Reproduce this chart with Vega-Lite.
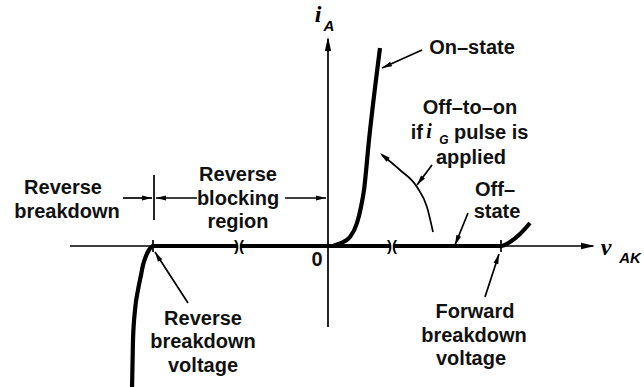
{
  "$schema": "https://vega.github.io/schema/vega-lite/v6.json",
  "width": 644,
  "height": 387,
  "autosize": {"type": "fit", "contains": "padding"},
  "padding": 0,
  "background": "white",
  "config": {"view": {"stroke": null}},
  "datasets": {
    "thick": [
      {"s": "main", "k": 1, "x": -19.6, "y": -14.4},
      {"s": "main", "k": 2, "x": -19.5, "y": -9.4},
      {"s": "main", "k": 3, "x": -19.3, "y": -6.4},
      {"s": "main", "k": 4, "x": -19.0, "y": -4.4},
      {"s": "main", "k": 5, "x": -18.7, "y": -2.9},
      {"s": "main", "k": 6, "x": -18.5, "y": -1.9},
      {"s": "main", "k": 7, "x": -18.2, "y": -1.0},
      {"s": "main", "k": 8, "x": -17.9, "y": -0.4},
      {"s": "main", "k": 9, "x": -17.5, "y": 0},
      {"s": "main", "k": 10, "x": 17.3, "y": 0},
      {"s": "main", "k": 11, "x": 18.2, "y": 0.4},
      {"s": "main", "k": 12, "x": 19.2, "y": 1.2},
      {"s": "main", "k": 13, "x": 20.2, "y": 2.3},
      {"s": "on", "k": 1, "x": 0.5, "y": 0},
      {"s": "on", "k": 2, "x": 1.2, "y": 0.25},
      {"s": "on", "k": 3, "x": 2.2, "y": 0.9},
      {"s": "on", "k": 4, "x": 2.9, "y": 2.3},
      {"s": "on", "k": 5, "x": 3.3, "y": 3.9},
      {"s": "on", "k": 6, "x": 3.6, "y": 5.6},
      {"s": "on", "k": 7, "x": 4.1, "y": 10.6},
      {"s": "on", "k": 8, "x": 5.2, "y": 19.8}
    ],
    "arc": [
      {"k": 1, "x": 10.5, "y": 1.4},
      {"k": 2, "x": 9.9, "y": 3.9},
      {"k": 3, "x": 8.9, "y": 5.9},
      {"k": 4, "x": 7.2, "y": 7.6},
      {"k": 5, "x": 5.4, "y": 9.1}
    ],
    "segs": [
      {"id": "haxis", "x": -25.8, "y": 0, "x2v": 26.5, "y2v": 0},
      {"id": "vaxis", "x": 0, "y": -8.1, "x2v": 0, "y2v": 20.7},
      {"id": "on", "x": 9.4, "y": 19.6, "x2v": 5.4, "y2v": 17.8},
      {"id": "ptr", "x": 10.4, "y": 8.1, "x2v": 8.9, "y2v": 6.1},
      {"id": "off", "x": 14.0, "y": 3.3, "x2v": 12.7, "y2v": 0.1},
      {"id": "fwd", "x": 15.7, "y": -5.1, "x2v": 17.1, "y2v": -0.8},
      {"id": "rev", "x": -14.0, "y": -5.7, "x2v": -17.3, "y2v": -0.6},
      {"id": "f", "x": -20.5, "y": 4.8, "x2v": -17.6, "y2v": 4.8},
      {"id": "g", "x": -13.1, "y": 4.8, "x2v": -17.2, "y2v": 4.8},
      {"id": "h", "x": -4.3, "y": 4.8, "x2v": -0.2, "y2v": 4.8},
      {"id": "tick", "x": -17.4, "y": 7.1, "x2v": -17.4, "y2v": 2.6},
      {"id": "tick2", "x": -17.5, "y": 0.6, "x2v": -17.5, "y2v": -0.6},
      {"id": "tick3", "x": 17.3, "y": 0.6, "x2v": 17.3, "y2v": -0.6}
    ],
    "gaps": [
      {"x": -9.05, "y": 0, "x2v": -8.75, "y2v": 0},
      {"x": 6.25, "y": 0, "x2v": 6.55, "y2v": 0}
    ],
    "heads": [
      {"id": "vaxis", "x": 0, "y": 20.9},
      {"id": "haxis", "x": 26.7, "y": 0},
      {"id": "arc", "x": 5.2, "y": 9.3},
      {"id": "on", "x": 5.4, "y": 17.8},
      {"id": "ptr", "x": 8.9, "y": 6.1},
      {"id": "off", "x": 12.7, "y": 0.1},
      {"id": "fwd", "x": 17.1, "y": -0.8},
      {"id": "rev", "x": -17.3, "y": -0.6},
      {"id": "f", "x": -17.6, "y": 4.8},
      {"id": "g", "x": -17.2, "y": 4.8},
      {"id": "h", "x": -0.2, "y": 4.8}
    ],
    "labels": [
      {"t": "On–state", "x": 14.4, "y": 19.8},
      {"t": "Off–to–on", "x": 14.2, "y": 13.8},
      {"t": "applied", "x": 14.3, "y": 8.8},
      {"t": "Off–", "x": 16.7, "y": 5.6},
      {"t": "state", "x": 16.9, "y": 3.4},
      {"t": "Forward", "x": 14.7, "y": -6.6},
      {"t": "breakdown", "x": 14.6, "y": -9.0},
      {"t": "voltage", "x": 14.3, "y": -11.3},
      {"t": "Reverse", "x": -12.5, "y": -7.3},
      {"t": "breakdown", "x": -12.5, "y": -9.6},
      {"t": "voltage", "x": -12.5, "y": -12.0},
      {"t": "Reverse", "x": -26.5, "y": 5.8},
      {"t": "breakdown", "x": -26.1, "y": 3.4},
      {"t": "Reverse", "x": -9.0, "y": 7.1},
      {"t": "blocking", "x": -9.0, "y": 4.7},
      {"t": "region", "x": -9.0, "y": 2.4},
      {"t": "0", "x": -1.1, "y": -1.4}
    ],
    "ifl": [{"t": "if", "x": 9.5, "y": 11.3}],
    "pulse": [{"t": "pulse is", "x": 12.6, "y": 11.3}],
    "mainsym": [
      {"t": "i", "x": -1.0, "y": 23.1},
      {"t": "v", "x": 27.8, "y": -0.2}
    ],
    "smallsym": [{"t": "i", "x": 10.1, "y": 11.4}],
    "subs": [
      {"t": "A", "x": 0.1, "y": 22.0},
      {"t": "AK", "x": 30.2, "y": -1.2}
    ],
    "subg": [{"t": "G", "x": 11.6, "y": 10.6}],
    "breaks": [
      {"t": ")(", "x": -8.9, "y": 0},
      {"t": ")(", "x": 6.4, "y": 0}
    ]
  },
  "encoding": {
    "x": {"field": "x", "type": "quantitative", "scale": {"domain": [-32.8, 31.6], "nice": false, "zero": false}, "axis": null},
    "y": {"field": "y", "type": "quantitative", "scale": {"domain": [-14.1, 24.6], "nice": false, "zero": false}, "axis": null}
  },
  "layer": [
    {"data": {"name": "segs"}, "mark": {"type": "rule", "color": "black", "strokeWidth": 1.7}, "encoding": {"x2": {"field": "x2v"}, "y2": {"field": "y2v"}}},
    {"data": {"name": "arc"}, "mark": {"type": "line", "color": "black", "strokeWidth": 1.7, "interpolate": "monotone"}, "encoding": {"order": {"field": "k"}}},
    {"data": {"name": "thick"}, "mark": {"type": "line", "color": "black", "strokeWidth": 4.2, "strokeJoin": "round", "interpolate": "monotone", "clip": true}, "encoding": {"detail": {"field": "s"}, "order": {"field": "k"}}},
    {"data": {"name": "gaps"}, "mark": {"type": "rule", "color": "white", "strokeWidth": 7}, "encoding": {"x2": {"field": "x2v"}, "y2": {"field": "y2v"}}},
    {"data": {"name": "breaks"}, "mark": {"type": "text", "font": "Liberation Sans", "fontSize": 15, "fontWeight": "bold", "align": "center", "baseline": "middle", "color": "black"}, "encoding": {"text": {"field": "t"}}},
    {"data": {"name": "heads"}, "transform": [{"filter": "datum.id == 'vaxis'"}], "mark": {"type": "point", "shape": "M0,0L-0.45,2L0.45,2Z", "size": 196, "filled": true, "color": "black", "opacity": 1, "angle": 0}},
    {"data": {"name": "heads"}, "transform": [{"filter": "datum.id == 'haxis'"}], "mark": {"type": "point", "shape": "M0,0L-0.45,2L0.45,2Z", "size": 196, "filled": true, "color": "black", "opacity": 1, "angle": 90}},
    {"data": {"name": "heads"}, "transform": [{"filter": "datum.id == 'arc'"}], "mark": {"type": "point", "shape": "M0,0L-0.5,2L0.5,2Z", "size": 110, "filled": true, "color": "black", "opacity": 1, "angle": 310}},
    {"data": {"name": "heads"}, "transform": [{"filter": "datum.id == 'on'"}], "mark": {"type": "point", "shape": "M0,0L-0.5,2L0.5,2Z", "size": 100, "filled": true, "color": "black", "opacity": 1, "angle": 246}},
    {"data": {"name": "heads"}, "transform": [{"filter": "datum.id == 'ptr'"}], "mark": {"type": "point", "shape": "M0,0L-0.5,2L0.5,2Z", "size": 100, "filled": true, "color": "black", "opacity": 1, "angle": 217}},
    {"data": {"name": "heads"}, "transform": [{"filter": "datum.id == 'off'"}], "mark": {"type": "point", "shape": "M0,0L-0.5,2L0.5,2Z", "size": 100, "filled": true, "color": "black", "opacity": 1, "angle": 202}},
    {"data": {"name": "heads"}, "transform": [{"filter": "datum.id == 'fwd'"}], "mark": {"type": "point", "shape": "M0,0L-0.5,2L0.5,2Z", "size": 100, "filled": true, "color": "black", "opacity": 1, "angle": 18}},
    {"data": {"name": "heads"}, "transform": [{"filter": "datum.id == 'rev'"}], "mark": {"type": "point", "shape": "M0,0L-0.5,2L0.5,2Z", "size": 100, "filled": true, "color": "black", "opacity": 1, "angle": 329}},
    {"data": {"name": "heads"}, "transform": [{"filter": "datum.id == 'f' || datum.id == 'h'"}], "mark": {"type": "point", "shape": "M0,0L-0.5,2L0.5,2Z", "size": 100, "filled": true, "color": "black", "opacity": 1, "angle": 90}},
    {"data": {"name": "heads"}, "transform": [{"filter": "datum.id == 'g'"}], "mark": {"type": "point", "shape": "M0,0L-0.5,2L0.5,2Z", "size": 100, "filled": true, "color": "black", "opacity": 1, "angle": 270}},
    {"data": {"name": "labels"}, "mark": {"type": "text", "font": "Liberation Sans", "fontSize": 20, "fontWeight": "bold", "align": "center", "baseline": "middle", "color": "#111"}, "encoding": {"text": {"field": "t"}}},
    {"data": {"name": "ifl"}, "mark": {"type": "text", "font": "Liberation Sans", "fontSize": 20, "fontWeight": "bold", "align": "right", "baseline": "middle", "color": "#111"}, "encoding": {"text": {"field": "t"}}},
    {"data": {"name": "pulse"}, "mark": {"type": "text", "font": "Liberation Sans", "fontSize": 20, "fontWeight": "bold", "align": "left", "baseline": "middle", "color": "#111"}, "encoding": {"text": {"field": "t"}}},
    {"data": {"name": "mainsym"}, "mark": {"type": "text", "font": "Liberation Serif", "fontSize": 24, "fontStyle": "italic", "fontWeight": "bold", "align": "center", "baseline": "middle", "color": "black"}, "encoding": {"text": {"field": "t"}}},
    {"data": {"name": "smallsym"}, "mark": {"type": "text", "font": "Liberation Serif", "fontSize": 20, "fontStyle": "italic", "fontWeight": "bold", "align": "center", "baseline": "middle", "color": "black"}, "encoding": {"text": {"field": "t"}}},
    {"data": {"name": "subs"}, "mark": {"type": "text", "font": "Liberation Sans", "fontSize": 15, "fontStyle": "italic", "fontWeight": "bold", "align": "center", "baseline": "middle", "color": "black"}, "encoding": {"text": {"field": "t"}}},
    {"data": {"name": "subg"}, "mark": {"type": "text", "font": "Liberation Sans", "fontSize": 12, "fontStyle": "italic", "fontWeight": "bold", "align": "center", "baseline": "middle", "color": "black"}, "encoding": {"text": {"field": "t"}}}
  ]
}
